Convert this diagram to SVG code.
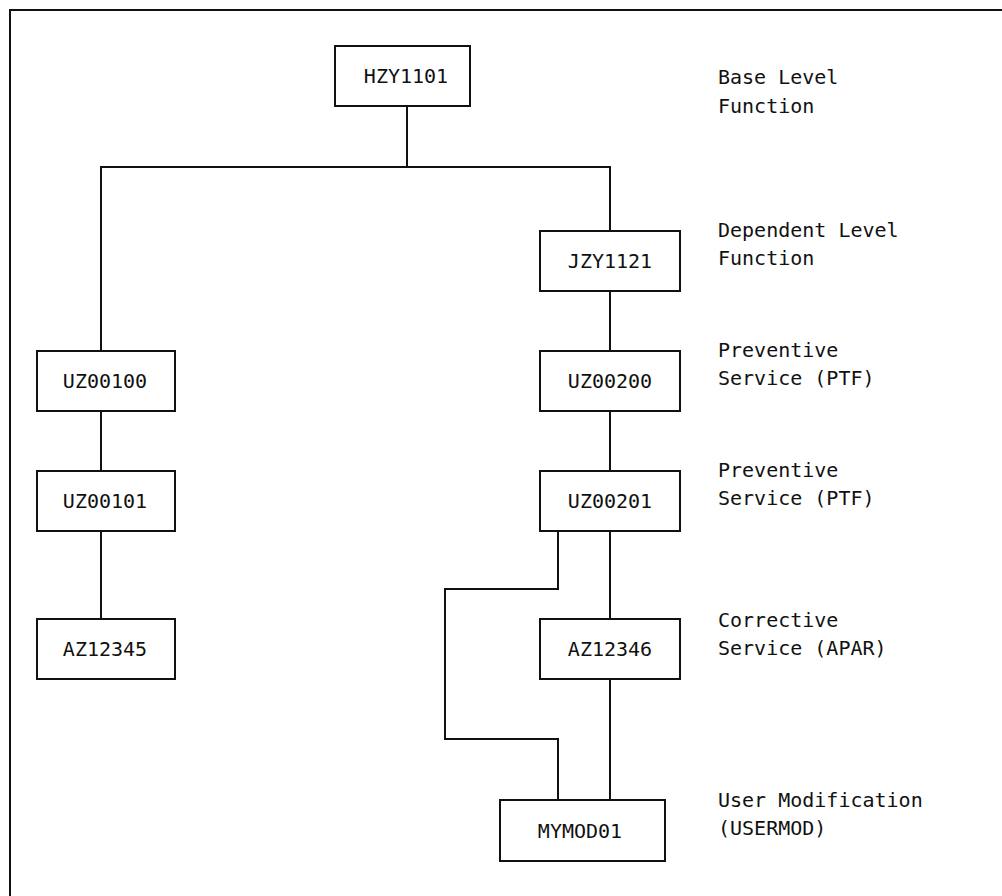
<svg xmlns="http://www.w3.org/2000/svg" width="1002" height="896" viewBox="0 0 1002 896">
<style>
.box{fill:#fff;stroke:#111;stroke-width:2}
.t{font-family:"DejaVu Sans Mono","Liberation Mono",monospace;font-size:20px;fill:#111}
.c{text-anchor:middle}
.ln{fill:none;stroke:#111;stroke-width:2}
</style>
<rect width="1002" height="896" fill="#fff"/>
<g id="frame"><path class="ln" d="M10,896 V10 H1002" stroke-width="2.5"/></g>
<g id="connectors">
<path class="ln" d="M407,106 V167"/>
<path class="ln" d="M101,351 V167 H610 V231"/>
<path class="ln" d="M101,411 V471"/>
<path class="ln" d="M101,531 V619"/>
<path class="ln" d="M610,291 V351"/>
<path class="ln" d="M610,411 V471"/>
<path class="ln" d="M610,531 V619"/>
<path class="ln" d="M610,679 V800"/>
<path class="ln" d="M558,531 V589 H445 V739 H558 V800"/>
</g>
<g id="HZY1101"><rect class="box" x="335" y="46" width="135" height="60"/><text class="t c" x="406" y="83">HZY1101</text></g>
<g id="UZ00100"><rect class="box" x="37" y="351" width="138" height="60"/><text class="t c" x="105" y="388">UZ00100</text></g>
<g id="UZ00101"><rect class="box" x="37" y="471" width="138" height="60"/><text class="t c" x="105" y="508">UZ00101</text></g>
<g id="AZ12345"><rect class="box" x="37" y="619" width="138" height="60"/><text class="t c" x="105" y="656">AZ12345</text></g>
<g id="JZY1121"><rect class="box" x="540" y="231" width="140" height="60"/><text class="t c" x="610" y="268">JZY1121</text></g>
<g id="UZ00200"><rect class="box" x="540" y="351" width="140" height="60"/><text class="t c" x="610" y="388">UZ00200</text></g>
<g id="UZ00201"><rect class="box" x="540" y="471" width="140" height="60"/><text class="t c" x="610" y="508">UZ00201</text></g>
<g id="AZ12346"><rect class="box" x="540" y="619" width="140" height="60"/><text class="t c" x="610" y="656">AZ12346</text></g>
<g id="MYMOD01"><rect class="box" x="500" y="800" width="165" height="61"/><text class="t c" x="580" y="838">MYMOD01</text></g>
<g id="labels">
<text class="t" x="718" y="84">Base Level</text>
<text class="t" x="718" y="113">Function</text>
<text class="t" x="718" y="237">Dependent Level</text>
<text class="t" x="718" y="265">Function</text>
<text class="t" x="718" y="357">Preventive</text>
<text class="t" x="718" y="385">Service (PTF)</text>
<text class="t" x="718" y="477">Preventive</text>
<text class="t" x="718" y="505">Service (PTF)</text>
<text class="t" x="718" y="627">Corrective</text>
<text class="t" x="718" y="655">Service (APAR)</text>
<text class="t" x="718" y="807">User Modification</text>
<text class="t" x="718" y="835">(USERMOD)</text>
</g>
</svg>
